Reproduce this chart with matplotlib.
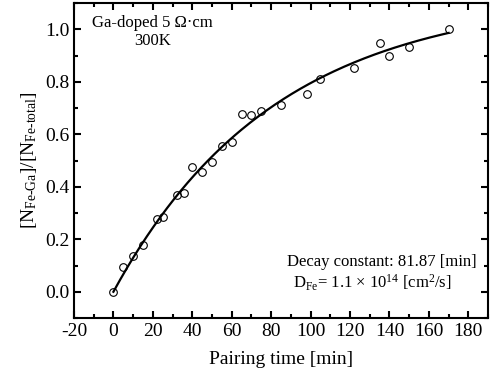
import numpy as np
import matplotlib
matplotlib.use('Agg')
import matplotlib.pyplot as plt
from matplotlib.ticker import MultipleLocator

plt.rcParams['font.family'] = 'Liberation Serif'
plt.rcParams['mathtext.fontset'] = 'custom'
plt.rcParams['mathtext.rm'] = 'Liberation Serif'
plt.rcParams['mathtext.it'] = 'Liberation Serif:italic'
plt.rcParams['axes.unicode_minus'] = False

pair_time = [0, 5, 10, 15, 22, 25, 32, 36, 40, 45, 50, 55, 60, 65, 70, 75, 85, 98, 105, 122, 135, 140, 150, 170]
frac_pair = [0.0, 0.096, 0.137, 0.177, 0.279, 0.284, 0.370, 0.376, 0.476, 0.458, 0.495, 0.557, 0.572,
             0.679, 0.672, 0.688, 0.712, 0.755, 0.811, 0.853, 0.948, 0.898, 0.934, 1.0]
tau = 81.87                                                  # decay constant from the legend text

t = np.array(pair_time, dtype=float)
y = np.array(frac_pair)
basis = 1 - np.exp(-t / tau)
amp = np.sum(y * basis) / np.sum(basis ** 2)                 # least-squares amplitude with fixed tau
t_fit = np.linspace(0, 170, 200)
y_fit = amp * (1 - np.exp(-t_fit / tau))

fig = plt.figure(figsize=(4.9, 3.82), dpi=100)
ax = fig.add_axes([0.151, 0.1675, 0.845, 0.8245])
ax.plot(t_fit, y_fit, color='black', lw=1.6)
ax.plot(pair_time, frac_pair, 'o', mfc='none', mec='black', ms=5.5, mew=0.8)

ax.set_xlim(-20, 190)
ax.set_ylim(-0.1, 1.1)
ax.xaxis.set_major_locator(MultipleLocator(20))
ax.xaxis.set_minor_locator(MultipleLocator(10))
ax.yaxis.set_major_locator(MultipleLocator(0.2))
ax.yaxis.set_minor_locator(MultipleLocator(0.1))
ax.yaxis.set_major_formatter(matplotlib.ticker.FormatStrFormatter('%.1f'))
ax.tick_params(which='both', direction='in', top=True, right=True, width=1.5, labelsize=14)
ax.tick_params(which='major', length=5)
ax.tick_params(which='minor', length=3)
for s in ax.spines.values():
    s.set_linewidth(1.5)

ax.set_xlabel('Pairing time [min]', fontsize=14, labelpad=8)
ax.set_ylabel(r'[N$_{\mathrm{Fe\text{-}Ga}}$]/[N$_{\mathrm{Fe\text{-}total}}$]', fontsize=14, labelpad=4)

ax.text(20, 1.025, 'Ga-doped 5 Ω·cm', ha='center', va='center', fontsize=12)
ax.text(20, 0.955, '300K', ha='center', va='center', fontsize=12)
ax.text(184, 0.115, 'Decay constant: 81.87 [min]', ha='right', va='center', fontsize=12)
ax.text(91, 0.035, r'D$_{\mathrm{Fe}}$= 1.1 × 10$^{14}$ [cm$^{2}$/s]', ha='left', va='center', fontsize=12)

fig.savefig('out.png', dpi=100)
